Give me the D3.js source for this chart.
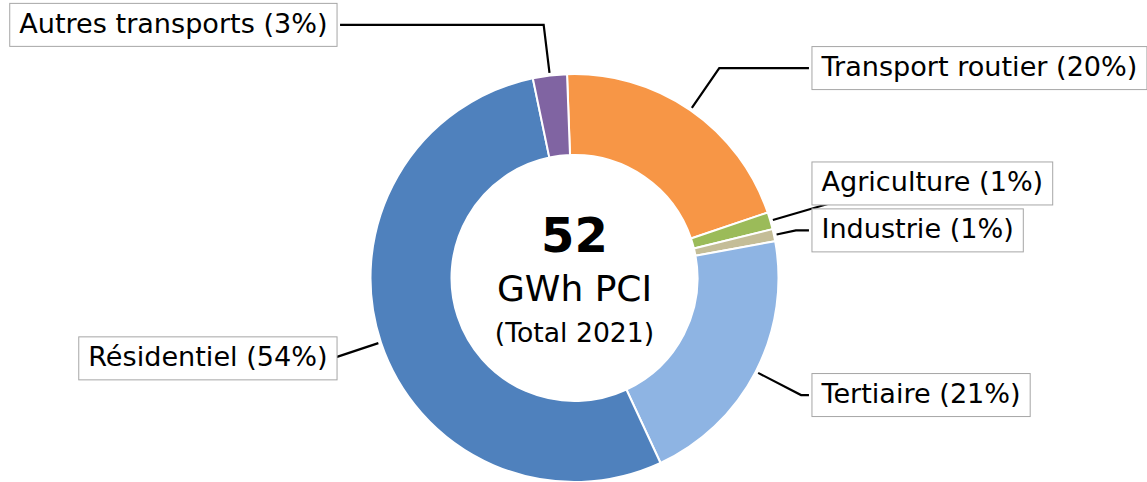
<!DOCTYPE html>
<html>
<head>
<meta charset="utf-8">
<script src="https://cdn.jsdelivr.net/npm/d3@7"></script>
<style>
  html, body { margin: 0; padding: 0; background: #ffffff; }
  svg { display: block; font-family: "DejaVu Sans", sans-serif; }
</style>
</head>
<body>
<svg id="chart" width="1147" height="482"></svg>
<script>
// ---- Data ----
const categories = ["Transport routier", "Agriculture", "Industrie", "Tertiaire", "Résidentiel", "Autres transports"];
const values = [10.6, 0.7, 0.5, 10.9, 27.9, 1.4];   // GWh PCI, 2021
const colors = ["#f79646", "#9bbb59", "#c4bd97", "#8eb4e3", "#4f81bd", "#8064a2"];
const centerUnit = "GWh PCI";
const centerSub = "(Total 2021)";

// ---- Layout ----
const W = 1147, H = 482;
const cx = 574.5, cy = 278, R = 204, r0 = 123;
const startDeg = -2.1;
const labelXFactor = 1.164;     // box inner edge distance (in radii)
const labelYFactor = 1.25;      // vertical spread of labels (in radii)
const labelShift = [0, -23, 6, 0, 0, 0]; // anti-overlap nudges (px)
const fontSize = 27.1;
const pad = 9.5;

const svg = d3.select("#chart");
const g = svg.append("g").attr("transform", `translate(${cx},${cy})`);

const total = d3.sum(values);
const pie = d3.pie().sort(null).value(d => d)
  .startAngle(startDeg * Math.PI / 180)
  .endAngle((startDeg + 360) * Math.PI / 180);
const arcs = pie(values);
const arc = d3.arc().innerRadius(r0).outerRadius(R);

const lines = g.append("g");
const slices = g.append("g");
slices.selectAll("path").data(arcs).enter().append("path")
  .attr("d", arc)
  .attr("fill", (d, i) => colors[i])
  .attr("stroke", "#ffffff")
  .attr("stroke-width", 2)
  .attr("stroke-linejoin", "round");

const labelsG = g.append("g");

arcs.forEach((d, i) => {
  const a = (d.startAngle + d.endAngle) / 2;
  const ux = Math.sin(a), uy = -Math.cos(a);
  const side = ux >= 0 ? 1 : -1;
  const px = ux * R, py = uy * R;
  const ty = uy * R * labelYFactor + labelShift[i];
  const edgeX = side * R * labelXFactor;
  const kx = px + (ty - py) * (ux / uy);
  const sx = px + ux * 2.7, sy = py + uy * 2.7;
  let pts;
  if (side * (kx - edgeX) > -3) {
    pts = [[sx, sy], [kx, ty]];
  } else {
    pts = [[sx, sy], [kx, ty], [edgeX - side * 3, ty]];
  }
  lines.append("path")
    .attr("d", d3.line()(pts))
    .attr("fill", "none")
    .attr("stroke", "#000")
    .attr("stroke-width", 2.2);

  const pct = Math.round(values[i] / total * 100);
  const label = `${categories[i]} (${pct}%)`;
  const lg = labelsG.append("g");
  const rect = lg.append("rect");
  const txt = lg.append("text")
    .attr("font-size", fontSize)
    .attr("fill", "#000")
    .text(label);
  const tw = txt.node().getComputedTextLength();
  const bw = tw + 2 * pad, bh = 43;
  const bx = side > 0 ? edgeX : edgeX - bw;
  rect.attr("x", bx).attr("y", ty - 21.5).attr("width", bw).attr("height", bh)
    .attr("fill", "#fff").attr("stroke", "#a6a6a6").attr("stroke-width", 1);
  txt.attr("x", bx + pad).attr("y", ty + 7.8);
});

// centre text
const ct = g.append("g").attr("text-anchor", "middle");
ct.append("text").attr("y", 252 - cy).attr("font-size", 48).attr("font-weight", "bold")
  .text(d3.format("d")(Math.round(total)));
ct.append("text").attr("y", 301 - cy).attr("font-size", 36).text(centerUnit);
ct.append("text").attr("y", 342 - cy).attr("font-size", 26.67).text(centerSub);
</script>
</body>
</html>
